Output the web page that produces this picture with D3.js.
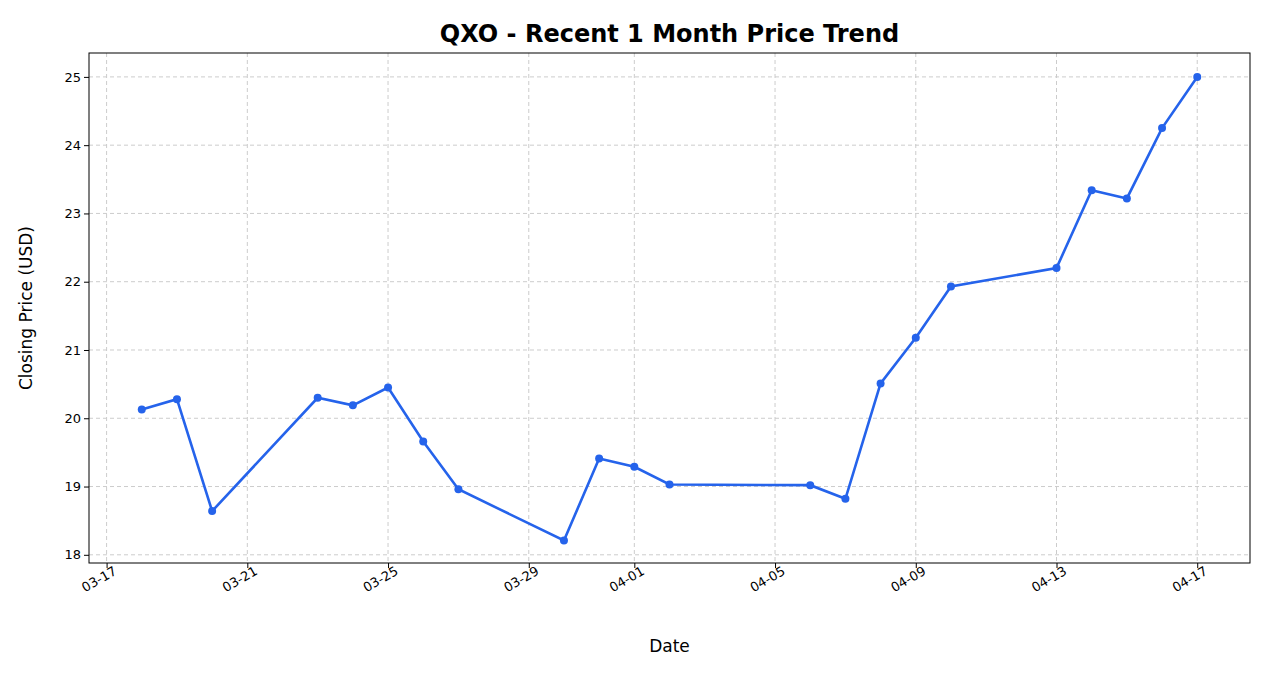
<!DOCTYPE html>
<html lang="en">
<head>
<meta charset="utf-8">
<title>QXO price trend</title>
<script src="https://cdn.jsdelivr.net/npm/d3@7"></script>
<style>
body { margin: 0; background: #fff; font-family: "DejaVu Sans", sans-serif; }
.grid line { stroke: #ccc; stroke-dasharray: 4,3; }
.axis text { font-size: 13px; fill: #000; font-family: "DejaVu Sans", sans-serif; }
</style>
</head>
<body>
<svg id="chart" width="1266" height="673"></svg>
<script>
var dates = ["2025-03-18","2025-03-19","2025-03-20","2025-03-23","2025-03-24","2025-03-25",
  "2025-03-26","2025-03-27","2025-03-30","2025-03-31","2025-04-01","2025-04-02",
  "2025-04-06","2025-04-07","2025-04-08","2025-04-09","2025-04-10","2025-04-13",
  "2025-04-14","2025-04-15","2025-04-16","2025-04-17"];
var prices = [20.13, 20.28, 18.64, 20.30, 20.19, 20.45, 19.66, 18.96, 18.21, 19.41, 19.29, 19.03,
  19.02, 18.82, 20.51, 21.18, 21.93, 22.20, 23.34, 23.22, 24.25, 25.00];
var yTicks = [18, 19, 20, 21, 22, 23, 24, 25];
var xTicks = ["2025-03-17","2025-03-21","2025-03-25","2025-03-29","2025-04-01","2025-04-05",
  "2025-04-09","2025-04-13","2025-04-17"];

var parse = d3.utcParse("%Y-%m-%d");
var fmt = d3.utcFormat("%m-%d");
var data = dates.map(function (d, i) { return { date: parse(d), price: prices[i] }; });

var pLeft = 89, pRight = 1250, pTop = 53, pBottom = 563;
var svg = d3.select("#chart");

var x = d3.scaleUtc()
  .domain([new Date(parse("2025-03-18").getTime() - 1.5 * 864e5), new Date(parse("2025-04-17").getTime() + 1.5 * 864e5)])
  .range([pLeft, pRight]);
var y = d3.scaleLinear().domain([17.88, 25.35]).range([pBottom, pTop]);

// grid
var grid = svg.append("g").attr("class", "grid");
grid.selectAll(".gx").data(xTicks).join("line")
  .attr("x1", function (d) { return x(parse(d)); }).attr("x2", function (d) { return x(parse(d)); })
  .attr("y1", pTop).attr("y2", pBottom);
grid.selectAll(".gy").data(yTicks).join("line")
  .attr("x1", pLeft).attr("x2", pRight)
  .attr("y1", function (d) { return y(d); }).attr("y2", function (d) { return y(d); });

// axes
var xAxis = svg.append("g").attr("class", "axis")
  .attr("transform", "translate(0," + pBottom + ")")
  .call(d3.axisBottom(x).tickValues(xTicks.map(parse)).tickFormat(fmt).tickSizeOuter(0).tickSize(5));
xAxis.selectAll("text")
  .attr("text-anchor", "end").attr("dx", "0.3em").attr("dy", "0.5em")
  .attr("transform", "rotate(-30)");
svg.append("g").attr("class", "axis")
  .attr("transform", "translate(" + pLeft + ",0)")
  .call(d3.axisLeft(y).tickValues(yTicks).tickSizeOuter(0).tickSize(5));
svg.selectAll(".axis .domain").remove();

svg.append("rect").attr("x", pLeft).attr("y", pTop)
  .attr("width", pRight - pLeft).attr("height", pBottom - pTop)
  .attr("fill", "none").attr("stroke", "#000").attr("stroke-width", 1);

// line
var line = d3.line().x(function (d) { return x(d.date); }).y(function (d) { return y(d.price); });
svg.append("path").datum(data).attr("d", line)
  .attr("fill", "none").attr("stroke", "#2563eb").attr("stroke-width", 2.6);
svg.selectAll(".dot").data(data).join("circle")
  .attr("cx", function (d) { return x(d.date); }).attr("cy", function (d) { return y(d.price); })
  .attr("r", 4).attr("fill", "#2563eb");

// labels
svg.append("text").attr("x", (pLeft + pRight) / 2).attr("y", 42)
  .attr("text-anchor", "middle").attr("font-size", 24).attr("font-weight", "bold")
  .text("QXO - Recent 1 Month Price Trend");
svg.append("text").attr("x", (pLeft + pRight) / 2).attr("y", 652)
  .attr("text-anchor", "middle").attr("font-size", 17).text("Date");
svg.append("text").attr("transform", "translate(32," + (pTop + pBottom) / 2 + ") rotate(-90)")
  .attr("text-anchor", "middle").attr("font-size", 17).text("Closing Price (USD)");
</script>
</body>
</html>
